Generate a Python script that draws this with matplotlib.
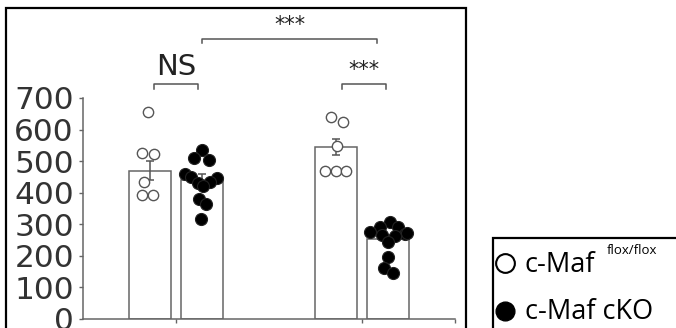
import matplotlib
matplotlib.use("Agg")
import matplotlib.pyplot as plt
from matplotlib.patches import Rectangle
from matplotlib.lines import Line2D
import numpy as np

# group means / sem
bar_pos = [0.36, 0.641, 1.359, 1.64]
bar_mean = [470, 440, 545, 253]
bar_sem = [29, 19, 24, 12]
genotype = ["flox", "cko", "flox", "cko"]

# individual animals: values and horizontal scatter offsets
pts_vals = [
    [656, 525, 523, 435, 394, 394],
    [535, 510, 503, 459, 448, 451, 430, 434, 420, 379, 364, 318],
    [640, 624, 548, 470, 470, 470],
    [308, 292, 290, 277, 269, 266, 263, 245, 272, 197, 160, 145],
]
pts_dx = [
    [-0.012, -0.045, 0.022, -0.031, -0.042, 0.018],
    [-0.003, -0.044, 0.037, -0.094, 0.080, -0.062, -0.024, 0.040, 0.003, -0.020, 0.019, -0.008],
    [-0.028, 0.039, 0.006, -0.056, -0.001, 0.055],
    [0.011, -0.043, 0.055, -0.097, 0.091, -0.034, 0.038, 0.002, 0.100, 0.002, -0.022, 0.029],
]

yticks = [0, 100, 200, 300, 400, 500, 600, 700]

fig = plt.figure(figsize=(6.76, 3.28), dpi=100)
ax = fig.add_axes([83 / 676, 9 / 328, 372 / 676, 221 / 328])

grey = "#666666"
ax.bar(bar_pos, bar_mean, width=0.226, color="white", edgecolor=grey,
       linewidth=1.1, zorder=1)
ax.errorbar(bar_pos, bar_mean, yerr=bar_sem, fmt="none", ecolor="#555555",
            elinewidth=1.1, capsize=3, capthick=1.1, zorder=2)

for x0, g, vals, dx in zip(bar_pos, genotype, pts_vals, pts_dx):
    xs = x0 + np.array(dx)
    if g == "flox":
        ax.scatter(xs, vals, s=55, facecolor="white", edgecolor="#555555",
                   linewidth=1.0, zorder=3, clip_on=False)
    else:
        ax.scatter(xs, vals, s=75, facecolor="black", edgecolor="#222222",
                   linewidth=0.8, zorder=3, clip_on=False)

ax.set_xlim(0, 2)
ax.set_ylim(0, 700)
ax.set_yticks(yticks)
ax.set_yticklabels([str(v) for v in yticks], fontsize=22.5, color="#333333",
                   family="DejaVu Sans")
ax.set_xticks([0.5, 1.5, 2.0])
ax.set_xticklabels([])
ax.tick_params(axis="y", length=3, width=1, color=grey, pad=3.5)
ax.tick_params(axis="x", length=3, width=1, color=grey, direction="out")
for s in ["top", "right"]:
    ax.spines[s].set_visible(False)
for s in ["left", "bottom"]:
    ax.spines[s].set_color(grey)
    ax.spines[s].set_linewidth(1.1)


def bracket(x1, x2, y, h, label, ty, size):
    ax.plot([x1, x1, x2, x2], [y - h, y, y, y - h], color="#555555",
            lw=1.1, clip_on=False)
    ax.text((x1 + x2) / 2, ty, label, ha="center", va="center",
            fontsize=size, color="#222222", clip_on=False)


bracket(0.382, 0.618, 744, 15, "NS", 797, 21)
bracket(1.392, 1.629, 744, 15, "***", 788, 15)
bracket(0.640, 1.581, 887, 13, "***", 930, 15)

# outer frame
fig.patches.append(Rectangle((6 / 676, -0.2), 460 / 676, 1.2 - 8 / 328,
                             transform=fig.transFigure, fill=False,
                             edgecolor="black", linewidth=1.6))
# legend box
fig.patches.append(Rectangle((493 / 676, -0.2), 0.4, 1.2 - 238 / 328,
                             transform=fig.transFigure, fill=False,
                             edgecolor="black", linewidth=1.6))
fig.add_artist(Line2D([505 / 676], [1 - 263 / 328], marker="o", markersize=13.5,
                      markerfacecolor="white", markeredgecolor="black",
                      markeredgewidth=1.5, transform=fig.transFigure))
fig.add_artist(Line2D([505 / 676], [1 - 311 / 328], marker="o", markersize=13.5,
                      markerfacecolor="black", markeredgecolor="black",
                      transform=fig.transFigure))
fig.text(525 / 676, 1 - 265 / 328, "c-Maf", fontsize=19.5, family="Open Sans",
         va="center", ha="left")
fig.text(607 / 676, 1 - 251 / 328, "flox/flox", fontsize=9.5,
         family="Open Sans", va="center", ha="left")
fig.text(525 / 676, 1 - 312 / 328, "c-Maf cKO", fontsize=19.5,
         family="Open Sans", va="center", ha="left")

fig.savefig("out.png", dpi=100)
